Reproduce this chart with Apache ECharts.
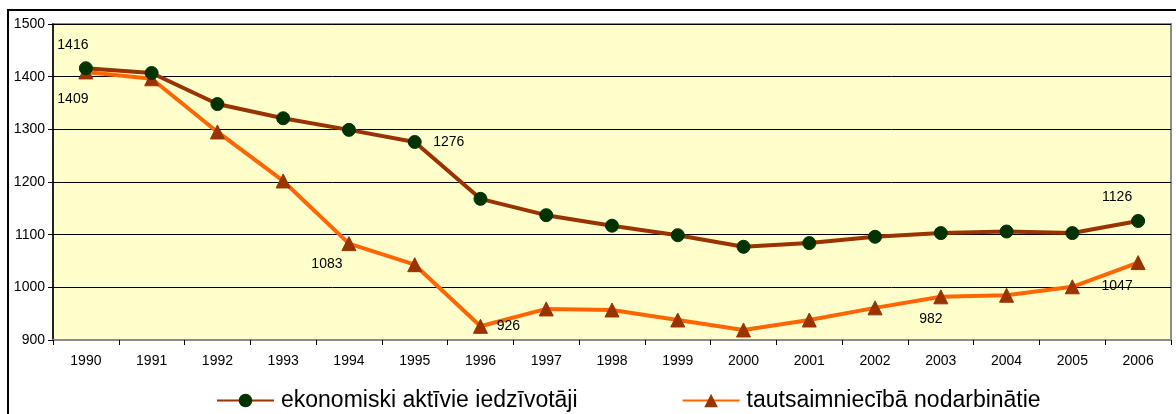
<!DOCTYPE html>
<html>
<head>
<meta charset="utf-8">
<script src="https://cdn.jsdelivr.net/npm/echarts@6/dist/echarts.min.js"></script>
<style>
html,body{margin:0;padding:0;background:#fff;}
#c{width:1176px;height:414px;}
</style>
</head>
<body>
<div id="c"></div>
<script>
const years = ['1990','1991','1992','1993','1994','1995','1996','1997','1998','1999','2000','2001','2002','2003','2004','2005','2006'];
const seriesNames = ['ekonomiski aktīvie iedzīvotāji', 'tautsaimniecībā nodarbinātie'];
const active = [1416,1407,1348,1321,1299,1276,1168,1137,1117,1099,1077,1084,1096,1103,1106,1103,1126];
const employed = [1409,1396,1295,1202,1083,1043,926,959,957,938,919,938,961,982,985,1001,1047];
const yTicks = [900,1000,1100,1200,1300,1400,1500];

// label placement (style only), keyed by category index
const activeLabels = {0:{offset:[-13,-23]},5:{offset:[34,0]},16:{offset:[-21,-24]}};
const employedLabels = {0:{offset:[-13,27]},4:{offset:[-22,21]},6:{offset:[28,0]},13:{offset:[-10,22]},16:{offset:[-21,24]}};

function build(vals, labels){
  return vals.map((v,i)=>{
    const d = {value:v};
    if (labels[i]) {
      d.label = {show:true, position:'inside', offset:labels[i].offset, formatter:String(v),
        color:'#000', fontSize:14, fontFamily:'Liberation Sans, Arial, sans-serif'};
    }
    return d;
  });
}

const chart = echarts.init(document.getElementById('c'), null, {renderer:'canvas'});
chart.setOption({
  animation:false,
  backgroundColor:'#fff',
  graphic:[{type:'rect', shape:{x:8,y:10,width:1200,height:420}, style:{fill:'none', stroke:'#000', lineWidth:2}, z:-1}],
  grid:{left:53, right:5, top:24, bottom:74, show:true, backgroundColor:'#FFFFCC', borderColor:'#8c8c8c', borderWidth:2},
  legend:{
    data:seriesNames, left:216, top:389, padding:0, itemWidth:57, itemHeight:17, itemGap:104,
    textStyle:{fontSize:23, color:'#000', fontFamily:'Liberation Sans, Arial, sans-serif', padding:[0,0,0,2]}
  },
  xAxis:{
    type:'category', data:years, boundaryGap:true,
    axisLine:{lineStyle:{color:'#8c8c8c', width:2}},
    axisTick:{show:true, length:5, lineStyle:{color:'#000'}},
    axisLabel:{margin:14, fontSize:14, color:'#000', fontFamily:'Liberation Sans, Arial, sans-serif'}
  },
  yAxis:{
    type:'value', min:900, max:1500, interval:100,
    axisLine:{show:true, lineStyle:{color:'#000', width:1.5}},
    axisTick:{show:true, length:5, lineStyle:{color:'#000'}},
    axisLabel:{margin:8, fontSize:14, color:'#000', fontFamily:'Liberation Sans, Arial, sans-serif',
      formatter:v=>yTicks.includes(v)?String(v):''},
    splitLine:{show:true, lineStyle:{color:'#000', width:1}}
  },
  series:[
    {name:seriesNames[0], type:'line', data:build(active, activeLabels),
     symbol:'circle', symbolSize:13, lineStyle:{color:'#993300', width:4},
     itemStyle:{color:'#003300', borderColor:'#003300'}, z:3},
    {name:seriesNames[1], type:'line', data:build(employed, employedLabels),
     symbol:'triangle', symbolSize:14, lineStyle:{color:'#FF6600', width:4},
     itemStyle:{color:'#993300', borderColor:'#993300'}, z:2}
  ]
});
</script>
</body>
</html>
